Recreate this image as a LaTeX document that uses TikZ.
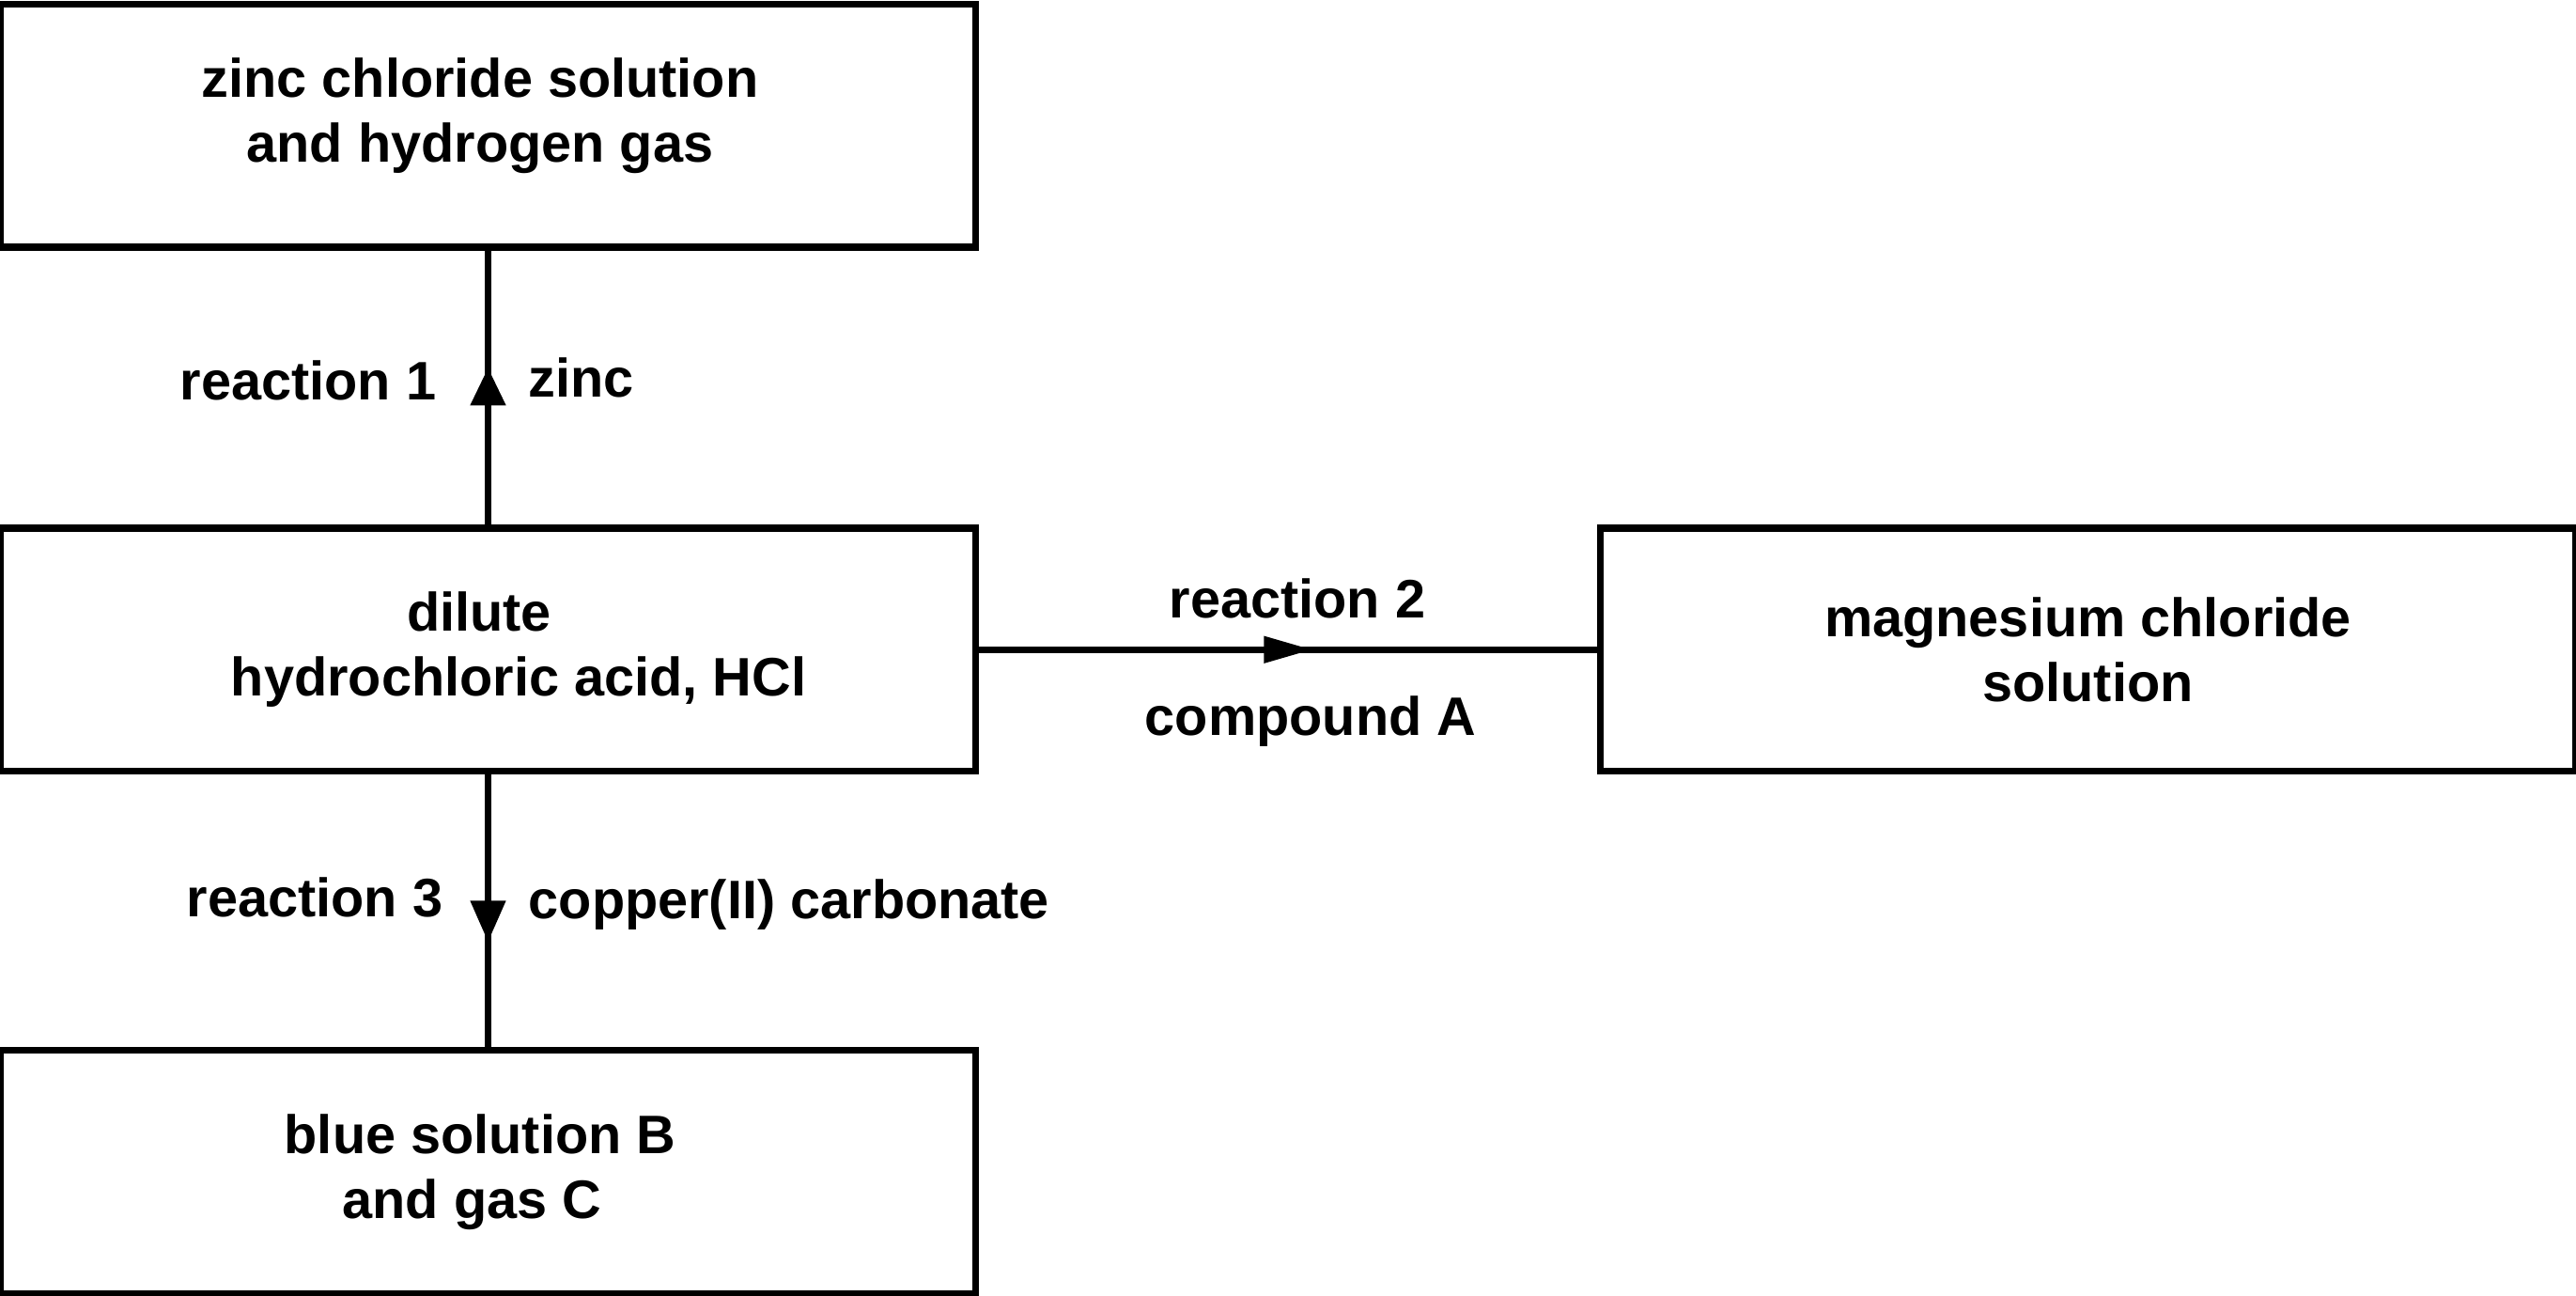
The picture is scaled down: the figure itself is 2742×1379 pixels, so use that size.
\documentclass[tikz,border=0pt]{standalone}
\usepackage{fontspec}
\setmainfont{Liberation Sans}
\usetikzlibrary{arrows.meta,decorations.markings}
\tikzset{
  box/.style={draw, line width=0.075cm, minimum width=10.37cm, minimum height=2.585cm,
    inner sep=0pt, align=center, font=\bfseries\fontsize{16.4}{19.6}\selectfont},
  tag/.style={inner sep=0pt, font=\bfseries\fontsize{16.4}{19.6}\selectfont},
  link/.style={line width=0.075cm},
  uptip/.style={postaction={decorate}, decoration={markings,
    mark=at position #1 with {\arrow{Triangle[length=0.4cm,width=0.36cm]}}}},
  downtip/.style={postaction={decorate}, decoration={markings,
    mark=at position #1 with {\arrow{Triangle[length=0.44cm,width=0.36cm]}}}},
  sidetip/.style={postaction={decorate}, decoration={markings,
    mark=at position #1 with {\arrow{Triangle[length=0.52cm,width=0.27cm]}}}}
}
\newcommand{\tailsp}{\hspace*{0.17cm}}

\begin{document}
\begin{tikzpicture}[x=0.01cm,y=-0.01cm]
    \useasboundingbox (0,0) rectangle (2742,1379);
    \node (zinc) [box, text depth=0.33cm] at (519.5,133.75) {zinc chloride solution\tailsp\\and hydrogen gas\tailsp};
    \node (acid) [box] at (519.5,691.25) {dilute\hspace*{0.19cm}\\\hspace*{0.65cm}hydrochloric acid, HCl};
    \node (blue) [box] at (519.5,1247) {blue solution B\tailsp\\and gas C\tailsp\tailsp};
    \node (mgcl) [box] at (2222.5,691.25) {magnesium chloride\\solution};

    \node (r1) [tag, anchor=base east] at (465,425) {reaction 1};
    \node (zn) [tag, anchor=base west] at (562,422) {zinc};
    \node (r2) [tag, anchor=base] at (1381,657) {reaction 2};
    \node (cpa) [tag, anchor=base] at (1395,782) {compound A};
    \node (r3) [tag, anchor=base east] at (472,975) {reaction 3};
    \node (cuco) [tag, anchor=base west] at (562,977) {copper(II) carbonate};

    \draw [link, uptip=0.573] (acid.north) -- (zinc.south);
    \draw [link, sidetip=0.54] (acid.east) -- (mgcl.west);
    \draw [link, downtip=0.615] (acid.south) -- (blue.north);
\end{tikzpicture}
\end{document}
